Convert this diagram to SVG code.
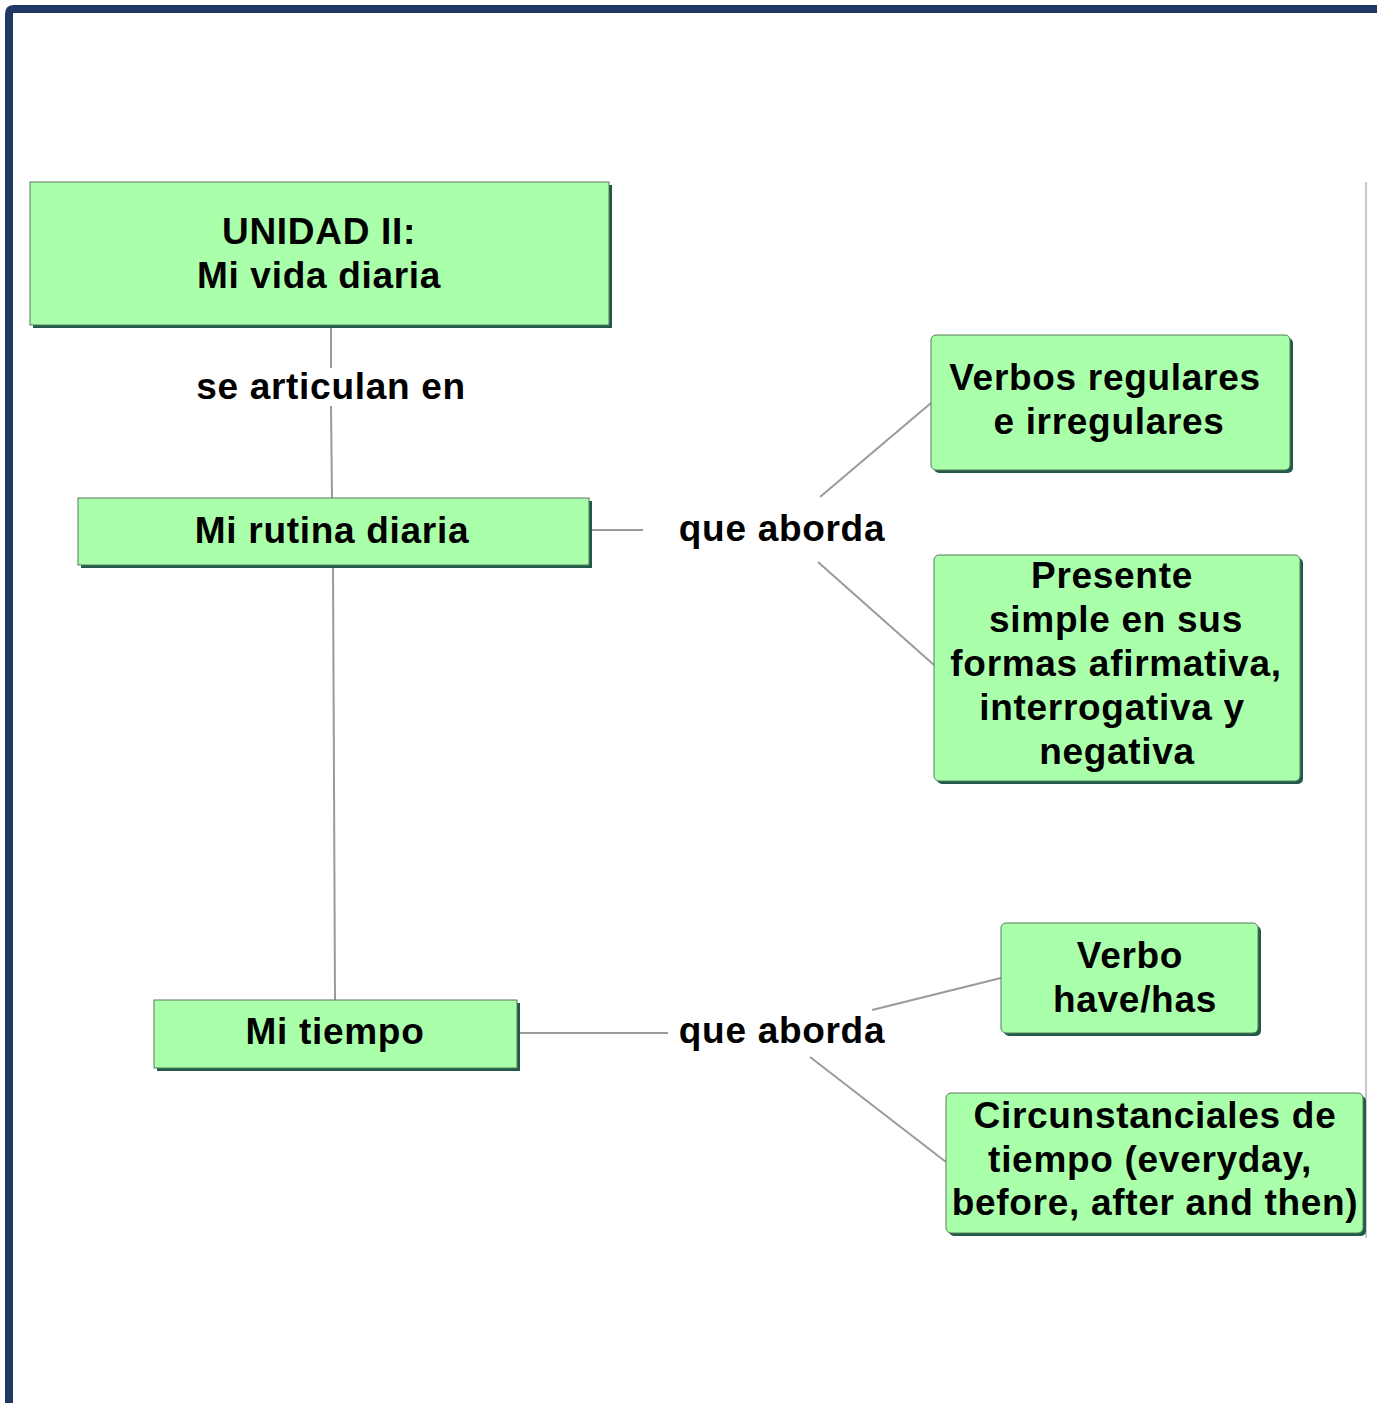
<svg xmlns="http://www.w3.org/2000/svg" width="1377" height="1403" viewBox="0 0 1377 1403">
<style>
.box{fill:#aaffaa;stroke:#5a7a5a;stroke-width:1}
.sh{fill:#1f5a4a}
.t{font-family:"Liberation Sans",Arial,sans-serif;font-weight:bold;font-size:37px;letter-spacing:0.7px;fill:#000;text-anchor:middle}
.c{stroke:#9a9a9a;stroke-width:2;fill:none}
</style>
<rect width="1377" height="1403" fill="#fff"/>
<path d="M9,1403 V14 Q9,9 14,9 H1377" fill="none" stroke="#1f3864" stroke-width="8"/>
<line x1="1366" y1="182" x2="1366" y2="1238" stroke="#c8c8c8" stroke-width="2"/>
<g id="connectors">
<line class="c" x1="331" y1="325" x2="331" y2="368"/>
<line class="c" x1="331" y1="406" x2="332" y2="498"/>
<line class="c" x1="333" y1="565" x2="335" y2="1000"/>
<line class="c" x1="589" y1="530" x2="643" y2="530"/>
<line class="c" x1="820" y1="497" x2="931" y2="403"/>
<line class="c" x1="818" y1="562" x2="934" y2="665"/>
<line class="c" x1="517" y1="1033" x2="668" y2="1033"/>
<line class="c" x1="872" y1="1010" x2="1001" y2="978"/>
<line class="c" x1="810" y1="1057" x2="946" y2="1162"/>
<text class="t" x="331" y="399">se articulan en</text>
<text class="t" x="782" y="541">que aborda</text>
<text class="t" x="782" y="1043">que aborda</text>
</g>
<g id="unidad">
<rect class="sh" x="33" y="185" width="579" height="143"/>
<rect class="box" x="30" y="182" width="579" height="143"/>
<text class="t" x="319" y="244">UNIDAD II:</text>
<text class="t" x="319" y="288">Mi vida diaria</text>
</g>
<g id="rutina">
<rect class="sh" x="81" y="501" width="511" height="67"/>
<rect class="box" x="78" y="498" width="511" height="67"/>
<text class="t" x="332" y="543">Mi rutina diaria</text>
</g>
<g id="tiempo">
<rect class="sh" x="157" y="1003" width="363" height="68"/>
<rect class="box" x="154" y="1000" width="363" height="68"/>
<text class="t" x="335" y="1044">Mi tiempo</text>
</g>
<g id="verbos">
<rect class="sh" x="934" y="338" width="359" height="135" rx="5"/>
<rect class="box" x="931" y="335" width="359" height="135" rx="5"/>
<text class="t" x="1105" y="390">Verbos regulares</text>
<text class="t" x="1109" y="434">e irregulares</text>
</g>
<g id="presente">
<rect class="sh" x="937" y="558" width="366" height="226" rx="5"/>
<rect class="box" x="934" y="555" width="366" height="226" rx="5"/>
<text class="t" x="1112" y="588">Presente</text>
<text class="t" x="1116" y="632">simple en sus</text>
<text class="t" x="1116" y="676">formas afirmativa,</text>
<text class="t" x="1112" y="720">interrogativa y</text>
<text class="t" x="1117" y="764">negativa</text>
</g>
<g id="have">
<rect class="sh" x="1004" y="926" width="257" height="110" rx="5"/>
<rect class="box" x="1001" y="923" width="257" height="110" rx="5"/>
<text class="t" x="1130" y="968">Verbo</text>
<text class="t" x="1135" y="1012">have/has</text>
</g>
<g id="circ">
<rect class="sh" x="949" y="1096" width="417" height="140" rx="5"/>
<rect class="box" x="946" y="1093" width="417" height="140" rx="5"/>
<text class="t" x="1155" y="1128">Circunstanciales de</text>
<text class="t" x="1150" y="1172">tiempo (everyday,</text>
<text class="t" x="1155" y="1215">before, after and then)</text>
</g>
</svg>
